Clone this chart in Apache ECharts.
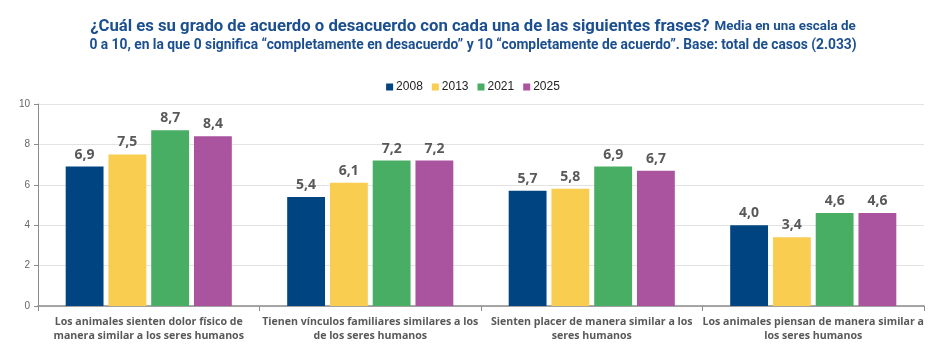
<!DOCTYPE html>
<html><head><meta charset="utf-8">
<script src="https://cdn.jsdelivr.net/npm/echarts@6/dist/echarts.min.js"></script>
<style>html,body{margin:0;padding:0;background:#fff}#c{width:946px;height:364px}</style>
</head><body><div id="c"></div>
<script>
const categories = [
  "Los animales sienten dolor físico de\nmanera similar a los seres humanos",
  "Tienen vínculos familiares similares a los\nde los seres humanos",
  "Sienten placer de manera similar a los\nseres humanos",
  "Los animales piensan de manera similar a\nlos seres humanos"
];
const seriesNames = ["2008", "2013", "2021", "2025"];
const v2008 = [6.9, 5.4, 5.7, 4.0];
const v2013 = [7.5, 6.1, 5.8, 3.4];
const v2021 = [8.7, 7.2, 6.9, 4.6];
const v2025 = [8.4, 7.2, 6.7, 4.6];
const yTicks = [0, 2, 4, 6, 8, 10];
const colors = ["#004481", "#f8cd50", "#48ae64", "#aa539f"];

const chart = echarts.init(document.getElementById('c'));
const values = [v2008, v2013, v2021, v2025];
chart.setOption({
  animation: false,
  color: colors,
  title: {
    text: "{a|¿Cuál es su grado de acuerdo o desacuerdo con cada una de las siguientes frases?} {b|Media en una escala de}\n{c|0 a 10, en la que 0 significa “completamente en desacuerdo” y 10 “completamente de acuerdo”. Base: total de casos (2.033)}",
    left: 'center', top: 12,
    textStyle: {
      rich: {
        a: { fontFamily: 'Roboto', fontWeight: 'bold', fontSize: 16.7, color: '#1b4f8f', lineHeight: 19 },
        b: { fontFamily: 'Roboto', fontWeight: 'bold', fontSize: 13.4, color: '#1b4f8f', lineHeight: 19 },
        c: { fontFamily: 'Roboto', fontWeight: 'bold', fontSize: 13.8, color: '#1b4f8f', lineHeight: 19 }
      }
    }
  },
  legend: {
    data: seriesNames, top: 76, left: 'center',
    icon: 'rect', itemWidth: 7, itemHeight: 7, itemGap: 9,
    textStyle: { fontFamily: 'Liberation Sans', fontSize: 12, color: '#222', padding: [0,0,0,-2] }
  },
  grid: { left: 38, right: 22, top: 104, bottom: 58, containLabel: false },
  xAxis: {
    type: 'category', data: categories,
    axisLine: { lineStyle: { color: '#8c8c8c', width: 1.5 } },
    axisTick: { show: true, alignWithLabel: false, length: 5, lineStyle: { color: '#8c8c8c' } },
    axisLabel: { interval: 0, fontFamily: 'Open Sans', fontWeight: 'bold', fontSize: 10.6, color: '#595959', lineHeight: 14, margin: 9 }
  },
  yAxis: {
    type: 'value', min: 0, max: 10, interval: 2,
    axisLine: { show: true, lineStyle: { color: '#8c8c8c' } },
    axisTick: { show: true, length: 4, lineStyle: { color: '#8c8c8c' } },
    splitLine: { lineStyle: { color: '#e3e3e3' } },
    axisLabel: { fontFamily: 'Liberation Sans', fontSize: 10, color: '#666', margin: 8,
      formatter: v => yTicks.includes(v) ? String(v) : '' }
  },
  series: seriesNames.map((n, i) => ({
    name: n, type: 'bar', data: values[i],
    barGap: '13%', barCategoryGap: '25%',
    label: { show: true, position: 'top', distance: 5, fontFamily: 'Open Sans', fontWeight: 'bold', fontSize: 14, color: '#595959',
      formatter: p => p.value.toFixed(1).replace('.', ',') }
  }))
});
</script></body></html>
